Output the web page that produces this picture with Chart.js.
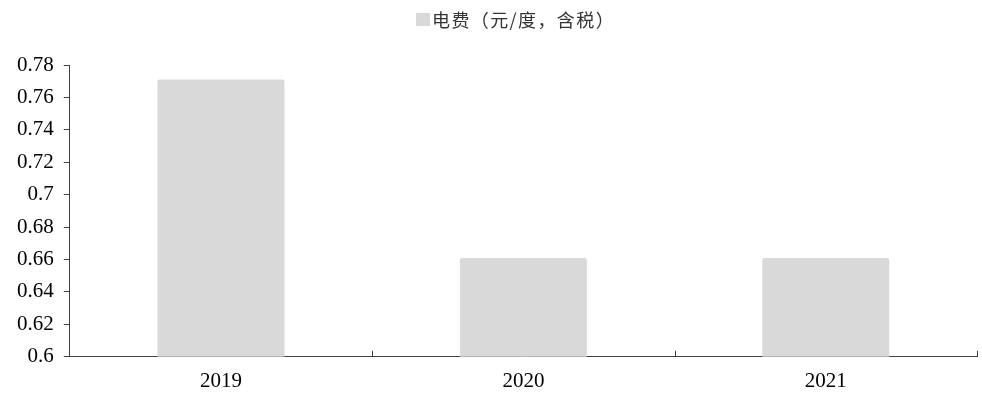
<!DOCTYPE html>
<html>
<head>
<meta charset="utf-8">
<script src="https://cdn.jsdelivr.net/npm/chart.js@4/dist/chart.umd.min.js"></script>
<style>
  html, body { margin: 0; padding: 0; background: #fff; }
  #wrap { width: 982px; height: 394px; }
</style>
</head>
<body>
<div id="wrap"><canvas id="c"></canvas></div>
<script>
// Electricity price per kWh, tax included
const years = ['2019', '2020', '2021'];
const price = [0.771, 0.661, 0.661];
const seriesName = '电费（元/度，含税）';
const yMin = 0.6, yMax = 0.78, yStep = 0.02;

const axisColor = '#404040';
const barColor = '#d9d9d9';

// short upward ticks on the category axis at each category boundary
const innerTicks = {
  id: 'innerTicks',
  afterDraw(chart) {
    const x = chart.scales.x;
    const ctx = chart.ctx;
    ctx.save();
    ctx.strokeStyle = axisColor;
    ctx.lineWidth = 1;
    for (let i = 1; i <= years.length; i++) {
      const px = Math.round(x.getPixelForValue(i - 0.5)) + 0.5;
      ctx.beginPath();
      ctx.moveTo(px, x.top);
      ctx.lineTo(px, x.top - 6);
      ctx.stroke();
    }
    ctx.restore();
  }
};

// single-entry legend: swatch + series name, centred above the plot
const topLegend = {
  id: 'topLegend',
  afterDraw(chart) {
    const ctx = chart.ctx;
    const ds = chart.data.datasets[0];
    const spacing = 1.4;
    ctx.save();
    ctx.font = '18px "Noto Sans CJK SC", sans-serif';
    const tw = ctx.measureText(ds.label).width + spacing * ([...ds.label].length - 1);
    ctx.letterSpacing = spacing + 'px';
    const box = 14, gap = 2;
    const total = box + gap + tw;
    const cx = chart.width / 2 + 24;
    const cy = 19;
    const x0 = Math.round(cx - total / 2);
    ctx.fillStyle = ds.backgroundColor;
    ctx.fillRect(x0, cy - 6, box, 13);
    ctx.fillStyle = '#333';
    ctx.textBaseline = 'middle';
    ctx.textAlign = 'left';
    ctx.fillText(ds.label, x0 + box + gap, cy + 1);
    ctx.restore();
  }
};

new Chart(document.getElementById('c'), {
  type: 'bar',
  data: {
    labels: years,
    datasets: [{
      label: seriesName,
      data: price,
      backgroundColor: barColor,
      borderRadius: 2,
      categoryPercentage: 1,
      barPercentage: 0.42
    }]
  },
  options: {
    responsive: true,
    maintainAspectRatio: false,
    animation: false,
    layout: { padding: { top: 65, right: 5, left: 7, bottom: -12 } },
    plugins: {
      tooltip: { enabled: false },
      legend: { display: false }
    },
    scales: {
      x: {
        offset: true,
        grid: { display: false, drawTicks: false },
        border: { display: true, color: axisColor, width: 1 },
        ticks: {
          color: '#000',
          padding: 12,
          font: { family: '"Liberation Serif", serif', size: 21 }
        }
      },
      y: {
        min: yMin,
        max: yMax,
        grid: {
          drawOnChartArea: false,
          drawTicks: true,
          tickLength: 6,
          color: axisColor
        },
        border: { display: true, color: axisColor, width: 1 },
        ticks: {
          stepSize: yStep,
          color: '#000',
          padding: 10,
          font: { family: '"Liberation Serif", serif', size: 21 },
          callback: v => String(Number(v.toFixed(2)))
        }
      }
    }
  },
  plugins: [innerTicks, topLegend]
});
</script>
</body>
</html>
